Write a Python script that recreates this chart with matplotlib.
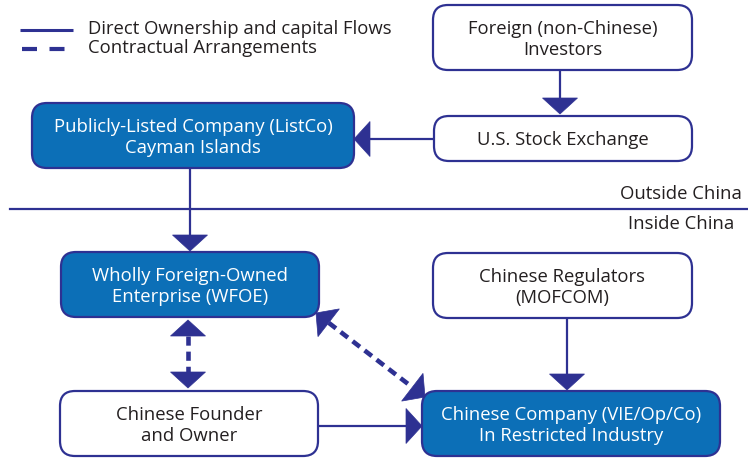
import matplotlib
matplotlib.use("Agg")
import matplotlib.pyplot as plt
from matplotlib.patches import FancyBboxPatch, Polygon
from matplotlib.lines import Line2D

plt.rcParams['font.family'] = ['Open Sans', 'DejaVu Sans']

# ---- content ----
node_labels = {
    "investors": "Foreign (non-Chinese)\nInvestors",
    "exchange": "U.S. Stock Exchange",
    "listco": "Publicly-Listed Company (ListCo)\nCayman Islands",
    "wfoe": "Wholly Foreign-Owned\nEnterprise (WFOE)",
    "regulators": "Chinese Regulators\n(MOFCOM)",
    "founder": "Chinese Founder\nand Owner",
    "company": "Chinese Company (VIE/Op/Co)\nIn Restricted Industry",
}
highlighted = ["listco", "wfoe", "company"]
legend_labels = ["Direct Ownership and capital Flows", "Contractual Arrangements"]
region_labels = ["Outside China", "Inside China"]

# ---- layout (pixel coordinates: x0, y0, x1, y1) ----
layout = {
    "investors": (433, 6, 692, 71),
    "exchange": (434, 117, 692, 162),
    "listco": (32, 104, 354, 169),
    "wfoe": (61, 253, 319, 318),
    "regulators": (433, 254, 692, 319),
    "founder": (60, 392, 318, 457),
    "company": (422, 392, 720, 457),
}

NAVY = "#2E3192"
BLUE = "#0C6FB7"
TEXT = "#231F20"
FS = 13.3

fig = plt.figure(figsize=(7.48, 4.60), dpi=100)
ax = fig.add_axes([0, 0, 1, 1])
ax.set_xlim(0, 748)
ax.set_ylim(460, 0)
ax.axis("off")

for key, (x0, y0, x1, y1) in layout.items():
    filled = key in highlighted
    box = FancyBboxPatch((x0, y0), x1 - x0, y1 - y0,
                         boxstyle="round,pad=0,rounding_size=15",
                         facecolor=BLUE if filled else "white",
                         edgecolor=NAVY, linewidth=1.6, zorder=3)
    ax.add_patch(box)
    ax.text((x0 + x1) / 2, (y0 + y1) / 2 + 1, node_labels[key],
            ha="center", va="center", multialignment="center",
            fontsize=FS, color="white" if filled else TEXT,
            linespacing=1.2, zorder=4)


def head(tip, direction, length=16, half=17.5):
    tx, ty = tip
    dx, dy = direction
    n = (dx * dx + dy * dy) ** 0.5
    dx, dy = dx / n, dy / n
    bx, by = tx - dx * length, ty - dy * length
    px, py = -dy, dx
    poly = Polygon([(tx, ty), (bx + px * half, by + py * half),
                    (bx - px * half, by - py * half)],
                   closed=True, facecolor=NAVY, edgecolor=NAVY,
                   linewidth=0.5, zorder=5)
    ax.add_patch(poly)
    return bx, by


def arrow(start, tip, dashed=False, both=False):
    sx, sy = start
    tx, ty = tip
    d = (tx - sx, ty - sy)
    ex, ey = head(tip, d)
    if both:
        sx, sy = head(start, (-d[0], -d[1]))
    ls = dict(color=NAVY, zorder=2, solid_capstyle="butt")
    if dashed:
        ax.add_line(Line2D([sx, ex], [sy, ey], linewidth=3.3,
                           dashes=(2.0, 1.3), dash_capstyle="butt", **ls))
    else:
        ax.add_line(Line2D([sx, ex], [sy, ey], linewidth=1.6, **ls))


arrow((560, 71), (560, 115))
arrow((434, 140), (354, 140))
arrow((190, 169), (190, 252))
arrow((188, 321), (188, 389), dashed=True, both=True)
arrow((316, 314), (425, 398), dashed=True, both=True)
arrow((567, 319), (567, 391))
arrow((318, 427), (422, 427))

# divider
ax.add_line(Line2D([10, 748], [210, 210], color=NAVY, linewidth=1.6))
ax.text(742, 194, region_labels[0], ha="right", va="center", fontsize=FS, color=TEXT)
ax.text(734, 224, region_labels[1], ha="right", va="center", fontsize=FS, color=TEXT)

# legend
ax.add_line(Line2D([20, 73], [31, 31], color=NAVY, linewidth=2.2, solid_capstyle="butt"))
ax.add_line(Line2D([22, 74], [50, 50], color=NAVY, linewidth=3.0,
                   dashes=(3.6, 3.0), dash_capstyle="butt"))
ax.text(88, 29, legend_labels[0], ha="left", va="center", fontsize=FS, color=TEXT)
ax.text(88, 48, legend_labels[1], ha="left", va="center", fontsize=FS, color=TEXT)

fig.savefig("out.png", dpi=100, facecolor="white")
